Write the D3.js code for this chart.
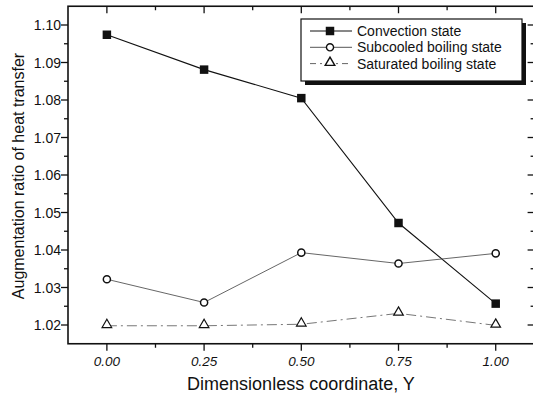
<!DOCTYPE html>
<html>
<head>
<meta charset="utf-8">
<script src="https://cdn.jsdelivr.net/npm/d3@7"></script>
<style>
  body { margin: 0; background: #fff; }
  text { font-family: "Liberation Sans", Arial, sans-serif; fill: #111; }
</style>
</head>
<body>
<div id="chart"></div>
<script>
var coords = [0.00, 0.25, 0.50, 0.75, 1.00];
var convection = [1.0974, 1.0881, 1.0805, 1.0472, 1.0257];
var subcooled = [1.0322, 1.0260, 1.0393, 1.0364, 1.0391];
var saturated = [1.0198, 1.0198, 1.0202, 1.0231, 1.0199];
var xTicks = [0.00, 0.25, 0.50, 0.75, 1.00];
var yTicks = [1.02, 1.03, 1.04, 1.05, 1.06, 1.07, 1.08, 1.09, 1.10];
var seriesNames = ["Convection state", "Subcooled boiling state", "Saturated boiling state"];

var width = 533, height = 399;
var svg = d3.select("#chart").append("svg")
  .attr("width", width).attr("height", height);

var x = d3.scaleLinear().domain([-0.1, 1.1]).range([68, 534.6]);
var y = d3.scaleLinear().domain([1.015, 1.105]).range([343.75, 6.25]);

// minor ticks
var xMinor = d3.range(-0.125, 1.13, 0.125).filter(function(d) { return d > -0.1 && d < 1.1; });
var yMinor = d3.range(1.015, 1.106, 0.005).filter(function(d) { return d > 1.0151 && d < 1.1049; });

// frame
var gAx = svg.append("g").attr("stroke", "#111").attr("fill", "none");
gAx.append("rect")
  .attr("x", x(-0.1)).attr("y", y(1.105))
  .attr("width", x(1.1) - x(-0.1)).attr("height", y(1.015) - y(1.105))
  .attr("stroke-width", 1.6);

// bottom ticks (outward) and top ticks (inward)
xMinor.forEach(function(d) {
  var major = Math.abs((d * 4) - Math.round(d * 4)) < 1e-6;
  var len = major ? 7 : 4;
  gAx.append("line").attr("x1", x(d)).attr("x2", x(d))
    .attr("y1", y(1.015)).attr("y2", y(1.015) + len).attr("stroke-width", 1.3);
  gAx.append("line").attr("x1", x(d)).attr("x2", x(d))
    .attr("y1", y(1.105)).attr("y2", y(1.105) + len).attr("stroke-width", 1.3);
});

// left ticks (outward) and right ticks (inward)
yMinor.forEach(function(d) {
  var major = Math.abs(d * 100 - Math.round(d * 100)) < 1e-6;
  var len = major ? 7 : 4;
  gAx.append("line").attr("y1", y(d)).attr("y2", y(d))
    .attr("x1", x(-0.1)).attr("x2", x(-0.1) - len).attr("stroke-width", 1.3);
  gAx.append("line").attr("y1", y(d)).attr("y2", y(d))
    .attr("x1", x(1.1)).attr("x2", x(1.1) - len).attr("stroke-width", 1.3);
});

// tick labels
svg.selectAll(".xl").data(xTicks).enter().append("text")
  .attr("x", function(d) { return x(d); })
  .attr("y", 366)
  .attr("text-anchor", "middle")
  .style("font-size", "13.5px").style("font-style", "italic")
  .text(function(d) { return d.toFixed(2); });

svg.selectAll(".yl").data(yTicks).enter().append("text")
  .attr("x", 61)
  .attr("y", function(d) { return y(d) + 5; })
  .attr("text-anchor", "end")
  .style("font-size", "14px")
  .text(function(d) { return d.toFixed(2); });

// axis titles
svg.append("text")
  .attr("x", 301).attr("y", 390)
  .attr("text-anchor", "middle")
  .style("font-size", "18px")
  .text("Dimensionless coordinate, Y");

svg.append("text")
  .attr("transform", "translate(24,176) rotate(-90)")
  .attr("text-anchor", "middle")
  .style("font-size", "16px")
  .text("Augmentation ratio of heat transfer");

// series
var line = d3.line()
  .x(function(d, i) { return x(coords[i]); })
  .y(function(d) { return y(d); });

svg.append("path").datum(convection).attr("d", line)
  .attr("fill", "none").attr("stroke", "#111").attr("stroke-width", 1.1);
svg.append("path").datum(subcooled).attr("d", line)
  .attr("fill", "none").attr("stroke", "#555").attr("stroke-width", 0.9);
svg.append("path").datum(saturated).attr("d", line)
  .attr("fill", "none").attr("stroke", "#666").attr("stroke-width", 0.9)
  .attr("stroke-dasharray", "10,4,2,4");

var sq = d3.symbol().type(d3.symbolSquare).size(72);
var ci = d3.symbol().type(d3.symbolCircle).size(40);
var tr = d3.symbol().type(d3.symbolTriangle).size(40);

svg.selectAll(".sq").data(convection).enter().append("path")
  .attr("d", sq)
  .attr("transform", function(d, i) { return "translate(" + x(coords[i]) + "," + y(d) + ")"; })
  .attr("fill", "#111");
svg.selectAll(".ci").data(subcooled).enter().append("path")
  .attr("d", ci)
  .attr("transform", function(d, i) { return "translate(" + x(coords[i]) + "," + y(d) + ")"; })
  .attr("fill", "#fff").attr("stroke", "#111").attr("stroke-width", 1.5);
svg.selectAll(".tr").data(saturated).enter().append("path")
  .attr("d", tr)
  .attr("transform", function(d, i) { return "translate(" + x(coords[i]) + "," + (y(d) - 1) + ")"; })
  .attr("fill", "#fff").attr("stroke", "#111").attr("stroke-width", 1.2);

// legend
var lg = svg.append("g");
lg.append("rect").attr("x", 305).attr("y", 23).attr("width", 221).attr("height", 62).attr("fill", "#111");
lg.append("rect").attr("x", 301).attr("y", 19).attr("width", 221).attr("height", 62)
  .attr("fill", "#fff").attr("stroke", "#111").attr("stroke-width", 1.2);

var rowsY = [31, 47.3, 63.6];
var styles = [
  { stroke: "#111", dash: null, sym: sq, fill: "#111" },
  { stroke: "#555", dash: null, sym: ci, fill: "#fff" },
  { stroke: "#666", dash: "6,4,2,4", sym: tr, fill: "#fff" }
];
seriesNames.forEach(function(name, i) {
  var s = styles[i];
  lg.append("line").attr("x1", 310).attr("x2", 352)
    .attr("y1", rowsY[i]).attr("y2", rowsY[i])
    .attr("stroke", s.stroke).attr("stroke-width", 1)
    .attr("stroke-dasharray", s.dash);
  lg.append("path").attr("d", s.sym)
    .attr("transform", "translate(330," + (rowsY[i] - (i == 2 ? 1 : 0)) + ")")
    .attr("fill", s.fill).attr("stroke", "#111").attr("stroke-width", i == 0 ? 0 : 1.4);
  lg.append("text").attr("x", 357).attr("y", rowsY[i] + 5)
    .style("font-size", "14px")
    .text(name);
});
</script>
</body>
</html>
